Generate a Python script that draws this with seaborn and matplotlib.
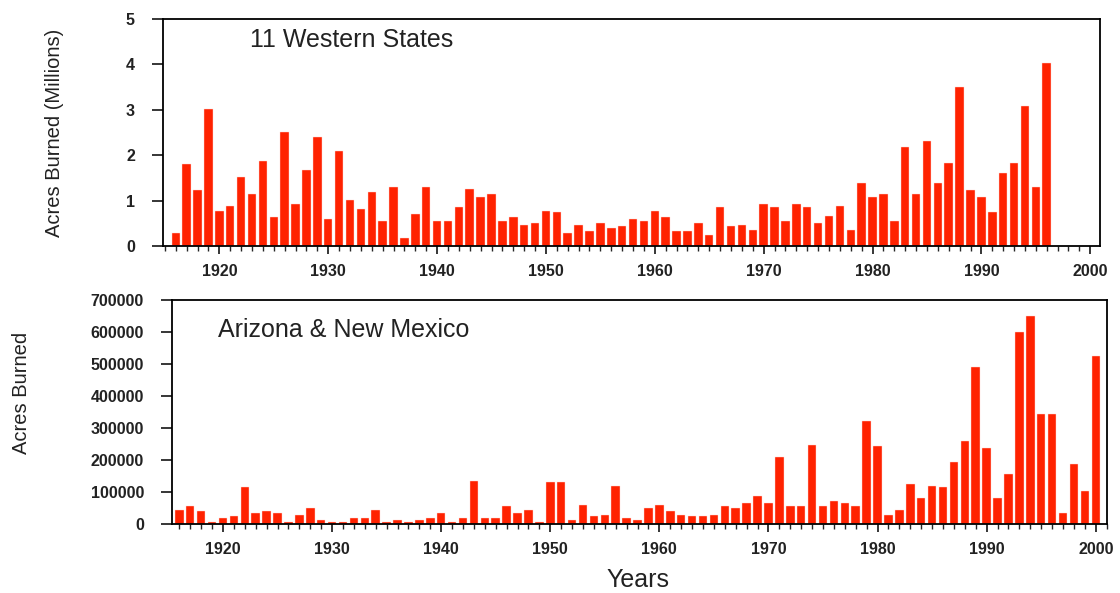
import numpy as np
import seaborn as sns
import matplotlib.pyplot as plt
from matplotlib.ticker import MultipleLocator, FixedLocator

# acres burned, 11 western states (millions), 1916-1996
west_years = np.arange(1916, 1997)
west_acres = [0.28, 1.80, 1.23, 3.01, 0.78, 0.88, 1.53, 1.15, 1.87, 0.63,
              2.51, 0.93, 1.68, 2.40, 0.59, 2.10, 1.01, 0.82, 1.19, 0.55,
              1.30, 0.17, 0.70, 1.30, 0.55, 0.55, 0.85, 1.26, 1.07, 1.15,
              0.55, 0.63, 0.47, 0.51, 0.77, 0.74, 0.28, 0.47, 0.32, 0.51,
              0.40, 0.43, 0.59, 0.55, 0.77, 0.63, 0.32, 0.32, 0.51, 0.24,
              0.85, 0.43, 0.47, 0.36, 0.93, 0.85, 0.55, 0.93, 0.85, 0.51,
              0.66, 0.89, 0.36, 1.38, 1.07, 1.15, 0.55, 2.18, 1.15, 2.32,
              1.38, 1.83, 3.50, 1.23, 1.07, 0.74, 1.60, 1.83, 3.08, 1.30,
              4.03]

# acres burned, Arizona & New Mexico, 1916-2000
azmn_years = np.arange(1916, 2001)
azmn_acres = [45000, 56000, 40000, 7000, 18000, 24000, 115000, 34000, 40000, 34000,
              7000, 29000, 51000, 12500, 7000, 7000, 18000, 18000, 45000, 7000,
              12500, 7000, 12500, 18000, 34000, 7000, 18000, 135000, 18000, 18000,
              55000, 34000, 45000, 7000, 130000, 130000, 12500, 60000, 24000, 29000,
              120000, 18000, 12500, 50000, 60000, 40000, 29000, 24000, 24000, 29000,
              55000, 50000, 67000, 87500, 67000, 210000, 55000, 55000, 248000, 55000,
              71000, 66000, 55000, 323000, 243000, 29000, 45000, 125000, 82000, 120000,
              115000, 195000, 259000, 490000, 237500, 82000, 157000, 601000, 650000, 345000,
              345000, 34000, 189000, 103000, 526000]

decades = [1920, 1930, 1940, 1950, 1960, 1970, 1980, 1990, 2000]
bar_color = "#ff2200"

sns.set_style("white")
plt.rcParams["font.family"] = ["Liberation Sans", "DejaVu Sans"]

fig = plt.figure(figsize=(11.2, 5.93), dpi=100)
ax1 = fig.add_axes([0.1453, 0.5852, 0.8369, 0.3828])
ax2 = fig.add_axes([0.1533, 0.1164, 0.8348, 0.3777])

sns.barplot(x=west_years, y=west_acres, color=bar_color, saturation=1,
            native_scale=True, width=0.78, edgecolor="#ffd8d0", linewidth=0.3, ax=ax1)
sns.barplot(x=azmn_years, y=azmn_acres, color=bar_color, saturation=1,
            native_scale=True, width=0.78, edgecolor="#ffd8d0", linewidth=0.3, ax=ax2)

ax1.set_xlim(1914.8, 2000.9)
ax1.set_ylim(0, 5)
ax1.set_yticks([0, 1, 2, 3, 4, 5])
ax2.set_xlim(1915.3, 2001.0)
ax2.set_ylim(0, 700000)
ax2.set_yticks(range(0, 700001, 100000))
ax2.set_yticklabels([str(v) for v in range(0, 700001, 100000)])

for ax in (ax1, ax2):
    ax.xaxis.set_major_locator(FixedLocator(decades))
    ax.set_xticklabels([str(d) for d in decades])
    ax.xaxis.set_minor_locator(MultipleLocator(1))
    ax.set_xlabel("")
    ax.set_ylabel("")
    for s in ax.spines.values():
        s.set_visible(True)
        s.set_color("black")
        s.set_linewidth(1.3)
    ax.tick_params(axis="x", which="major", direction="out", length=6, width=1.3,
                   pad=7, labelsize=11.5, bottom=True)
    ax.tick_params(axis="x", which="minor", direction="out", length=3.5, width=1.0,
                   bottom=True)
    ax.tick_params(axis="y", which="major", direction="out", length=8, width=1.3,
                   pad=12, labelsize=11.5, left=True)
    for lab in ax.get_xticklabels() + ax.get_yticklabels():
        lab.set_fontweight("bold")
        lab.set_color("#222222")

ax1.text(0.093, 0.907, "11 Western States", transform=ax1.transAxes,
         fontsize=18, va="center", ha="left", color="#222222")
ax2.text(0.0495, 0.866, "Arizona & New Mexico", transform=ax2.transAxes,
         fontsize=18, va="center", ha="left", color="#222222")

fig.text(0.049, 0.776, "Acres Burned (Millions)", rotation=90, fontsize=14.5,
         ha="center", va="center", color="#222222")
fig.text(0.0196, 0.337, "Acres Burned", rotation=90, fontsize=14.5,
         ha="center", va="center", color="#222222")
fig.text(0.5696, 0.022, "Years", fontsize=18, ha="center", va="center",
         color="#222222")

fig.savefig("out.png", dpi=100)
